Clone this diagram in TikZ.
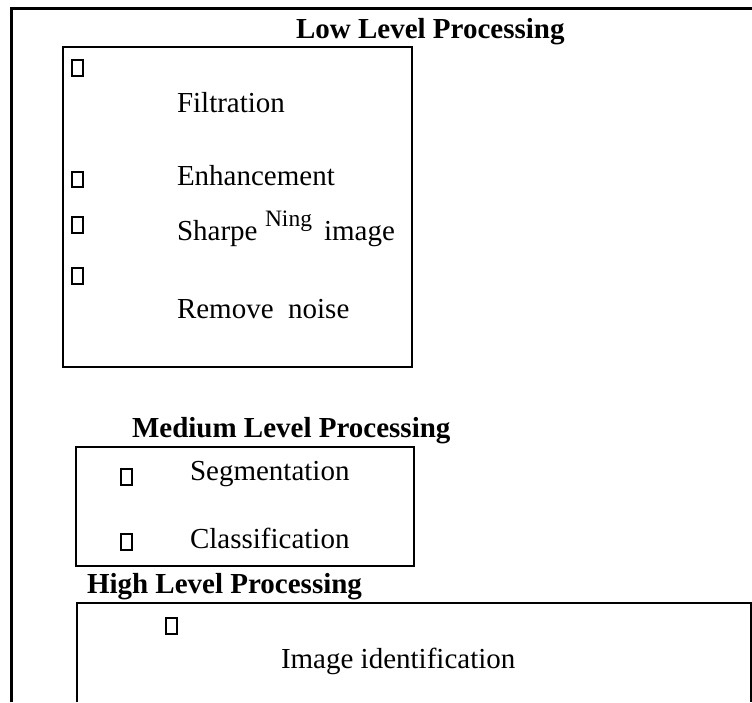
\documentclass[tikz,border=0pt]{standalone}
\usepackage{fontspec}
\setmainfont{Liberation Serif}
\begin{document}
\begin{tikzpicture}[x=1pt,y=-1pt,
  lbl/.style={anchor=base west, inner sep=0pt, outer sep=0pt, font=\fontsize{29}{34}\selectfont},
  ttl/.style={lbl, font=\fontsize{29}{34}\selectfont\bfseries},
  supr/.style={anchor=base west, inner sep=0pt, outer sep=0pt, font=\fontsize{23.5}{27}\selectfont},
  chk/.style={draw, rectangle, minimum width=10.5pt, minimum height=15.5pt, inner sep=0pt, line width=1.8pt},
  frame/.style={line width=3pt},
  boxln/.style={line width=2pt}]
\useasboundingbox (0,0) rectangle (752,702);
% outer frame (top and left only)
\draw[frame] (11.5,702) -- (11.5,8) -- (752,8);
% low level box
\draw[boxln] (63,47) rectangle (412,367);
\node[ttl] (lowt) at (296,38) {Low Level Processing};
\node[chk] (c1) at (77.5,68) {};
\node[chk] (c2) at (77.5,179.5) {};
\node[chk] (c3) at (77.5,225) {};
\node[chk] (c4) at (77.5,276) {};
\node[lbl] (filt) at (177,112) {Filtration};
\node[lbl] (enh) at (177,185) {Enhancement};
\node[lbl] (sharp) at (177,240) {Sharpe};
\node[supr] (ning) at (265,226) {Ning};
\node[lbl] (img) at (324,240) {image};
\node[lbl] (rem) at (177,318) {Remove\ \ noise};
% medium level box
\node[ttl] (medt) at (132,437) {Medium Level Processing};
\draw[boxln] (76,447) rectangle (414,566);
\node[chk] (c5) at (126.5,477) {};
\node[chk] (c6) at (126.5,542) {};
\node[lbl] (seg) at (190,480) {Segmentation};
\node[lbl] (cls) at (190,548) {Classification};
% high level box
\node[ttl] (hight) at (87,593) {High Level Processing};
\draw[line width=1.6pt] (77,702) -- (77,603) -- (751,603) -- (751,702);
\node[chk] (c7) at (171.5,626) {};
\node[lbl] (iid) at (281,668) {Image identification};
\end{tikzpicture}
\end{document}
